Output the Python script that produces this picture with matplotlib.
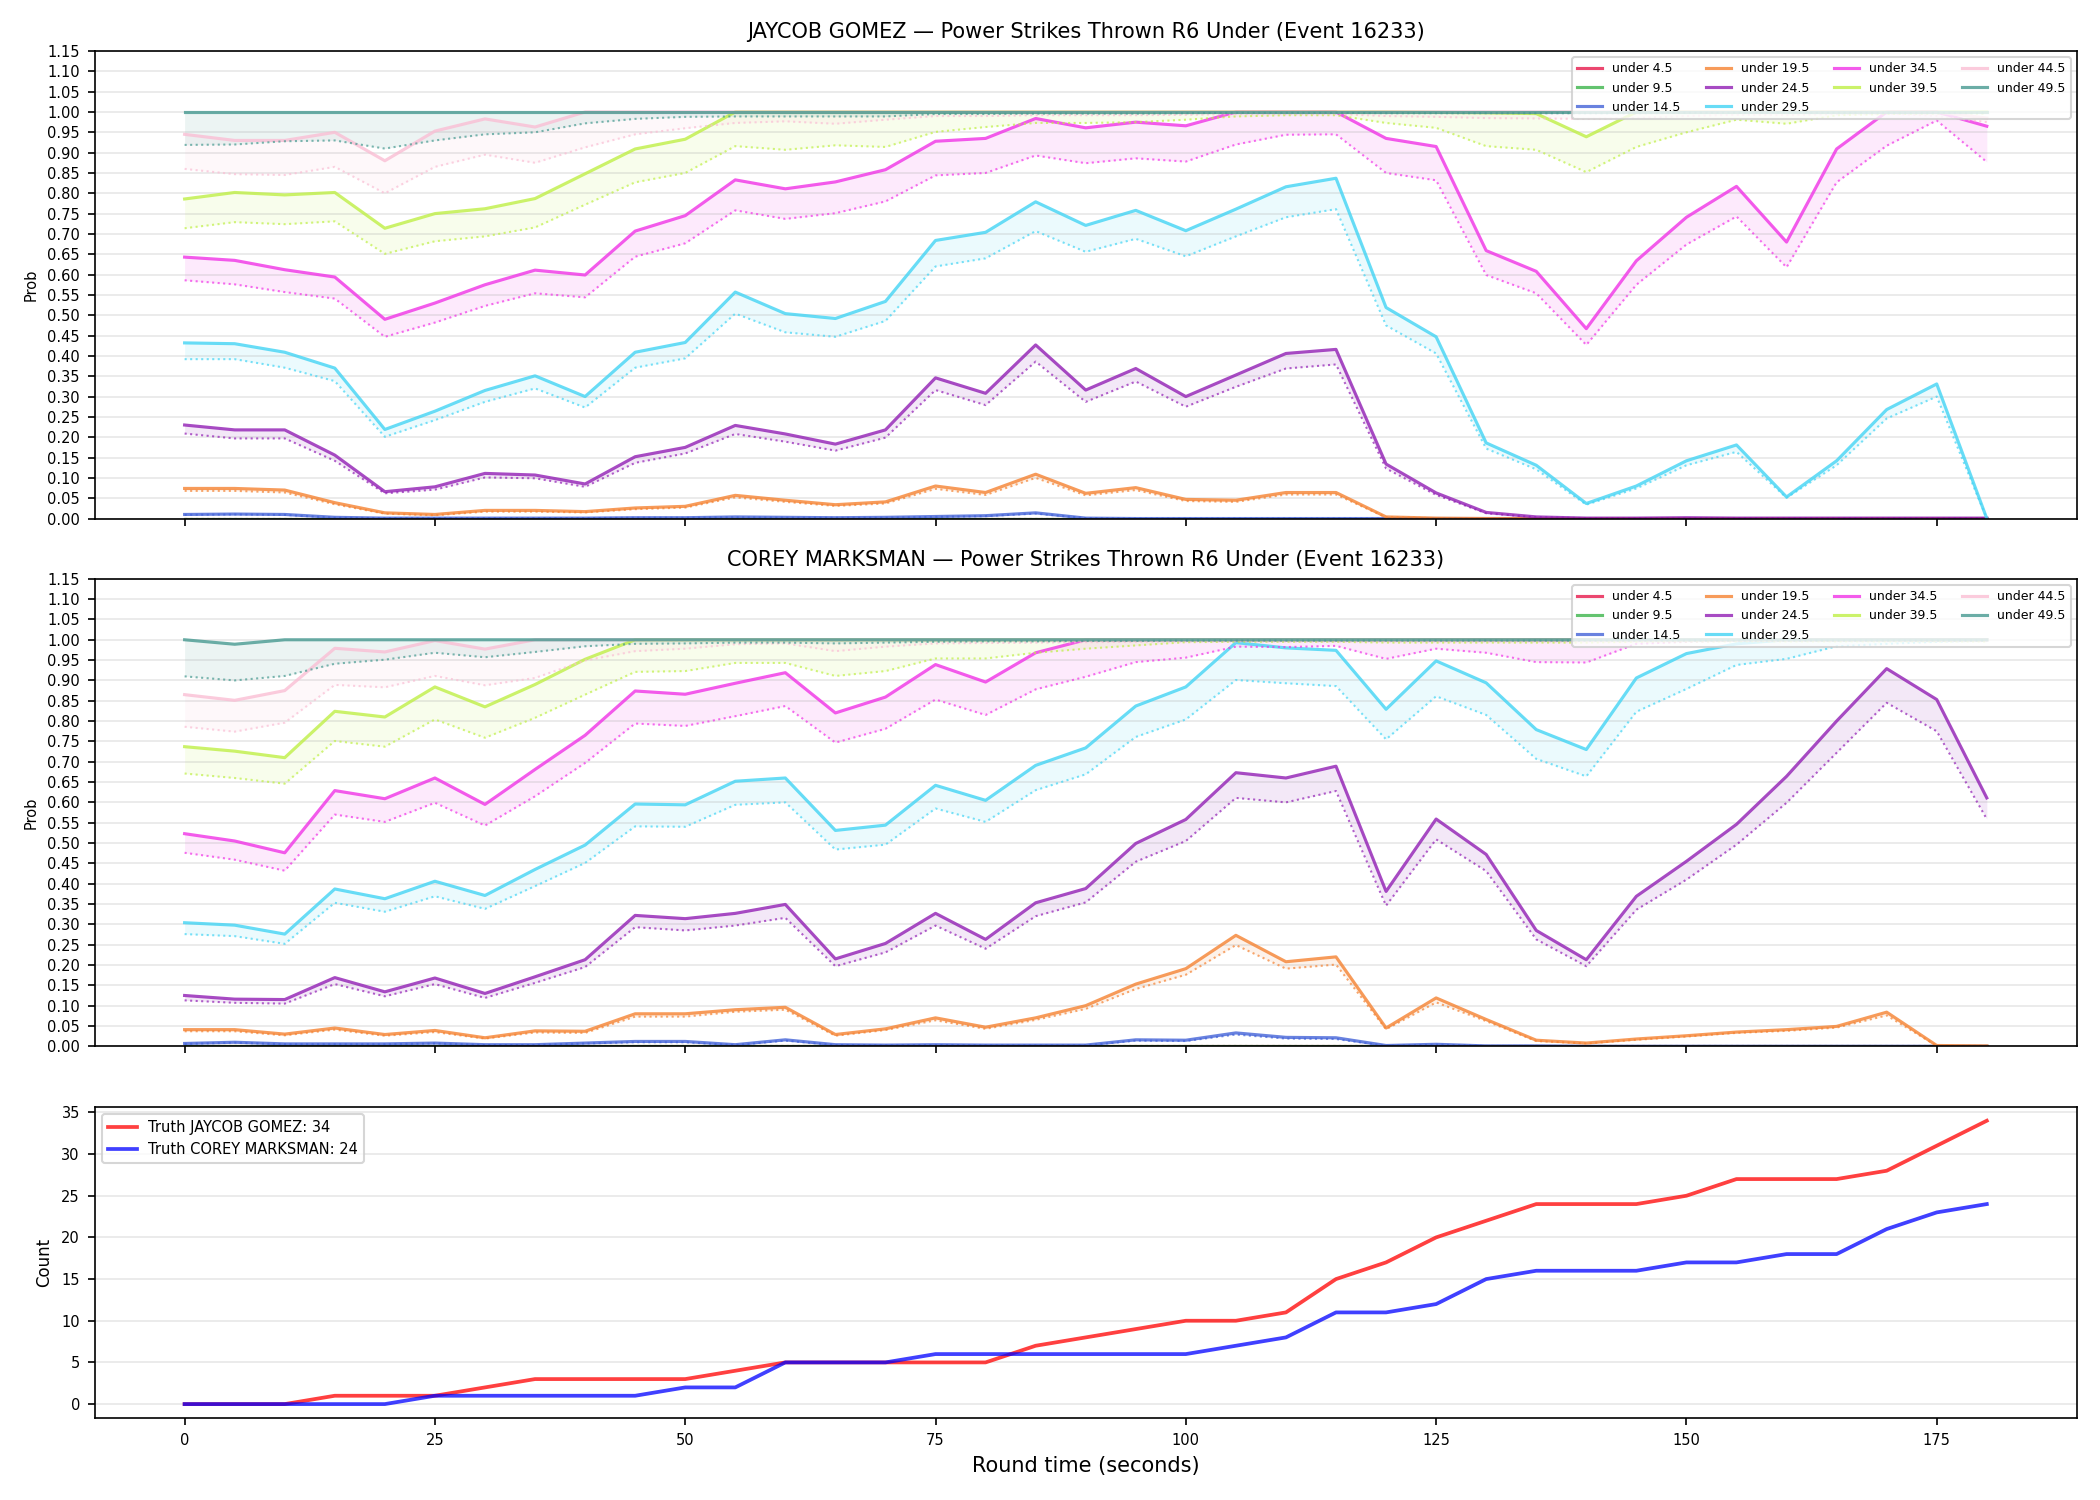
"""
plot.py — cumulative "under X" probability bands for two fighters plus the
running truth count, one figure with three stacked panels.

Solid line = model probability, dotted line = lower band; the gap is shaded.
"""

import matplotlib
matplotlib.use("Agg")
import matplotlib.pyplot as plt
import numpy as np

matplotlib.rcParams.update({
    "font.family":      "DejaVu Sans",
    "font.size":        7,
    "axes.titlesize":   10,
    "axes.labelsize":   7,
    "legend.fontsize":  6,
    "figure.facecolor": "white",
})

# ---------------------------------------------------------------------------
# Data (5 s steps)
# ---------------------------------------------------------------------------

round_time = [0, 5, 10, 15, 20, 25, 30, 35, 40, 45, 50, 55, 60, 65, 70, 75, 80, 85, 90,
              95, 100, 105, 110, 115, 120, 125, 130, 135, 140, 145, 150, 155, 160, 165,
              170, 175, 180]

thresholds = [4.5, 9.5, 14.5, 19.5, 24.5, 29.5, 34.5, 39.5, 44.5, 49.5]

# --- JAYCOB GOMEZ -----------------------------------------------------------
# under 4.5 / 9.5 sit flat on zero for the whole round
jg_u4_line = [0.000, 0.000, 0.000, 0.000, 0.000, 0.000, 0.000, 0.000, 0.000, 0.000,
              0.000, 0.000, 0.000, 0.000, 0.000, 0.000, 0.000, 0.000, 0.000, 0.000,
              0.000, 0.000, 0.000, 0.000, 0.000, 0.000, 0.000, 0.000, 0.000, 0.000,
              0.000, 0.000, 0.000, 0.000, 0.000, 0.000, 0.000]
jg_u4_low = jg_u4_line
jg_u9_line = jg_u4_line
jg_u9_low = jg_u4_line

jg_u14_line = [0.010, 0.011, 0.010, 0.003, 0.001, 0.001, 0.001, 0.001, 0.001, 0.002,
               0.002, 0.004, 0.003, 0.002, 0.003, 0.005, 0.007, 0.014, 0.001, 0.000,
               0.000, 0.000, 0.000, 0.000, 0.000, 0.000, 0.000, 0.000, 0.000, 0.000,
               0.000, 0.000, 0.000, 0.000, 0.000, 0.000, 0.000]
jg_u14_low = [0.009, 0.010, 0.009, 0.002, 0.001, 0.001, 0.001, 0.001, 0.001, 0.002,
              0.002, 0.003, 0.002, 0.002, 0.002, 0.004, 0.006, 0.012, 0.001, 0.000,
              0.000, 0.000, 0.000, 0.000, 0.000, 0.000, 0.000, 0.000, 0.000, 0.000,
              0.000, 0.000, 0.000, 0.000, 0.000, 0.000, 0.000]

jg_u19_line = [0.074, 0.074, 0.070, 0.039, 0.014, 0.010, 0.020, 0.020, 0.017, 0.026,
               0.030, 0.057, 0.045, 0.034, 0.041, 0.080, 0.064, 0.109, 0.062, 0.076,
               0.047, 0.045, 0.064, 0.064, 0.004, 0.001, 0.000, 0.000, 0.000, 0.000,
               0.000, 0.000, 0.000, 0.000, 0.000, 0.000, 0.000]
jg_u19_low = [0.068, 0.068, 0.064, 0.035, 0.012, 0.008, 0.017, 0.017, 0.015, 0.023,
              0.027, 0.052, 0.041, 0.031, 0.037, 0.073, 0.058, 0.100, 0.057, 0.070,
              0.043, 0.041, 0.059, 0.059, 0.003, 0.001, 0.000, 0.000, 0.000, 0.000,
              0.000, 0.000, 0.000, 0.000, 0.000, 0.000, 0.000]

jg_u24_line = [0.230, 0.218, 0.218, 0.156, 0.066, 0.078, 0.111, 0.107, 0.085, 0.152,
               0.175, 0.229, 0.208, 0.183, 0.218, 0.346, 0.308, 0.427, 0.316, 0.369,
               0.300, 0.353, 0.406, 0.416, 0.134, 0.063, 0.015, 0.004, 0.001, 0.001,
               0.002, 0.001, 0.001, 0.001, 0.001, 0.001, 0.001]
jg_u24_low = [0.209, 0.197, 0.197, 0.142, 0.062, 0.071, 0.101, 0.099, 0.078, 0.137,
              0.160, 0.208, 0.189, 0.167, 0.199, 0.316, 0.279, 0.386, 0.287, 0.337,
              0.275, 0.324, 0.369, 0.379, 0.123, 0.058, 0.013, 0.003, 0.001, 0.001,
              0.001, 0.001, 0.001, 0.001, 0.001, 0.001, 0.001]

jg_u29_line = [0.432, 0.430, 0.409, 0.370, 0.219, 0.264, 0.315, 0.351, 0.300, 0.409,
               0.433, 0.557, 0.504, 0.492, 0.534, 0.684, 0.704, 0.779, 0.721, 0.758,
               0.708, 0.761, 0.816, 0.837, 0.519, 0.447, 0.186, 0.131, 0.037, 0.080,
               0.142, 0.181, 0.053, 0.142, 0.268, 0.331, 0.000]
jg_u29_low = [0.392, 0.392, 0.371, 0.338, 0.201, 0.242, 0.287, 0.320, 0.273, 0.371,
              0.394, 0.504, 0.458, 0.447, 0.486, 0.620, 0.640, 0.707, 0.656, 0.688,
              0.645, 0.694, 0.741, 0.761, 0.475, 0.406, 0.172, 0.121, 0.034, 0.074,
              0.131, 0.164, 0.051, 0.131, 0.246, 0.300, 0.000]

jg_u34_line = [0.643, 0.635, 0.612, 0.594, 0.490, 0.530, 0.575, 0.611, 0.599, 0.707,
               0.745, 0.833, 0.811, 0.828, 0.858, 0.928, 0.935, 0.984, 0.961, 0.975,
               0.966, 1.000, 1.000, 1.000, 0.935, 0.915, 0.659, 0.608, 0.467, 0.634,
               0.741, 0.817, 0.680, 0.909, 1.000, 1.000, 0.965]
jg_u34_low = [0.586, 0.576, 0.557, 0.541, 0.447, 0.482, 0.523, 0.554, 0.544, 0.644,
              0.677, 0.758, 0.737, 0.751, 0.780, 0.844, 0.850, 0.893, 0.874, 0.886,
              0.878, 0.920, 0.944, 0.945, 0.850, 0.832, 0.599, 0.554, 0.427, 0.575,
              0.674, 0.743, 0.618, 0.827, 0.917, 0.979, 0.877]

jg_u39_line = [0.786, 0.802, 0.796, 0.802, 0.714, 0.750, 0.762, 0.787, 0.848, 0.909,
               0.933, 1.000, 1.000, 1.000, 1.000, 1.000, 1.000, 1.000, 1.000, 1.000,
               1.000, 1.000, 1.000, 1.000, 1.000, 0.999, 0.998, 0.996, 0.939, 1.000,
               1.000, 1.000, 1.000, 1.000, 1.000, 1.000, 1.000]
jg_u39_low = [0.714, 0.729, 0.724, 0.731, 0.651, 0.682, 0.694, 0.716, 0.772, 0.827,
              0.850, 0.916, 0.907, 0.918, 0.914, 0.951, 0.963, 0.973, 0.973, 0.975,
              0.981, 0.989, 0.992, 0.992, 0.973, 0.961, 0.916, 0.907, 0.852, 0.914,
              0.950, 0.981, 0.971, 0.992, 0.995, 0.996, 0.996]

jg_u44_line = [0.945, 0.930, 0.930, 0.950, 0.880, 0.953, 0.983, 0.963, 1.000, 1.000,
               1.000, 1.000, 1.000, 1.000, 1.000, 1.000, 1.000, 1.000, 1.000, 1.000,
               1.000, 1.000, 1.000, 1.000, 1.000, 1.000, 1.000, 1.000, 1.000, 1.000,
               1.000, 1.000, 1.000, 1.000, 1.000, 1.000, 0.985]
jg_u44_low = [0.860, 0.847, 0.845, 0.865, 0.800, 0.865, 0.895, 0.875, 0.913, 0.945,
              0.960, 0.973, 0.977, 0.971, 0.981, 0.990, 0.990, 0.992, 0.992, 0.992,
              0.993, 0.995, 0.995, 0.995, 0.990, 0.988, 0.985, 0.984, 0.983, 0.985,
              0.990, 0.993, 0.992, 0.995, 0.996, 0.990, 0.975]

jg_u49_line = [1.000, 1.000, 1.000, 1.000, 1.000, 1.000, 1.000, 1.000, 1.000, 1.000,
               1.000, 1.000, 1.000, 1.000, 1.000, 1.000, 1.000, 1.000, 1.000, 1.000,
               1.000, 1.000, 1.000, 1.000, 1.000, 1.000, 1.000, 1.000, 1.000, 1.000,
               1.000, 1.000, 1.000, 1.000, 1.000, 1.000, 1.000]
jg_u49_low = [0.919, 0.920, 0.928, 0.930, 0.910, 0.930, 0.945, 0.950, 0.972, 0.983,
              0.988, 0.989, 0.989, 0.989, 0.989, 0.995, 0.995, 0.996, 0.996, 0.996,
              0.997, 0.998, 0.998, 0.998, 0.997, 0.997, 0.997, 0.997, 0.997, 0.997,
              0.998, 0.998, 0.998, 0.998, 0.998, 0.998, 0.998]

# --- COREY MARKSMAN ---------------------------------------------------------
cm_u4_line = [0.000, 0.000, 0.000, 0.000, 0.000, 0.000, 0.000, 0.000, 0.000, 0.000,
              0.000, 0.000, 0.000, 0.000, 0.000, 0.000, 0.000, 0.000, 0.000, 0.000,
              0.000, 0.000, 0.000, 0.000, 0.000, 0.000, 0.000, 0.000, 0.000, 0.000,
              0.000, 0.000, 0.000, 0.000, 0.000, 0.000, 0.000]
cm_u4_low = cm_u4_line
cm_u9_line = cm_u4_line
cm_u9_low = cm_u4_line

cm_u14_line = [0.007, 0.010, 0.006, 0.006, 0.006, 0.008, 0.004, 0.004, 0.008, 0.012,
               0.012, 0.004, 0.016, 0.004, 0.003, 0.004, 0.003, 0.003, 0.003, 0.016,
               0.015, 0.033, 0.022, 0.021, 0.002, 0.005, 0.001, 0.001, 0.000, 0.000,
               0.000, 0.000, 0.000, 0.000, 0.000, 0.000, 0.000]
cm_u14_low = [0.006, 0.009, 0.005, 0.005, 0.005, 0.007, 0.003, 0.003, 0.007, 0.010,
              0.010, 0.003, 0.014, 0.003, 0.002, 0.003, 0.002, 0.002, 0.002, 0.014,
              0.013, 0.029, 0.019, 0.018, 0.001, 0.004, 0.001, 0.001, 0.000, 0.000,
              0.000, 0.000, 0.000, 0.000, 0.000, 0.000, 0.000]

cm_u19_line = [0.041, 0.041, 0.030, 0.045, 0.029, 0.039, 0.021, 0.038, 0.037, 0.080,
               0.080, 0.090, 0.096, 0.029, 0.043, 0.070, 0.047, 0.070, 0.100, 0.153,
               0.191, 0.273, 0.208, 0.220, 0.045, 0.119, 0.066, 0.015, 0.008, 0.018,
               0.026, 0.035, 0.041, 0.049, 0.084, 0.002, 0.001]
cm_u19_low = [0.037, 0.037, 0.027, 0.041, 0.026, 0.035, 0.019, 0.034, 0.033, 0.073,
              0.073, 0.085, 0.090, 0.026, 0.040, 0.064, 0.043, 0.065, 0.092, 0.141,
              0.176, 0.249, 0.191, 0.201, 0.042, 0.108, 0.062, 0.013, 0.007, 0.016,
              0.024, 0.033, 0.038, 0.046, 0.076, 0.001, 0.000]

cm_u24_line = [0.125, 0.116, 0.115, 0.169, 0.134, 0.168, 0.130, 0.171, 0.213, 0.322,
               0.314, 0.327, 0.349, 0.215, 0.253, 0.327, 0.263, 0.353, 0.388, 0.499,
               0.558, 0.673, 0.660, 0.689, 0.381, 0.559, 0.472, 0.285, 0.213, 0.369,
               0.455, 0.546, 0.664, 0.800, 0.929, 0.853, 0.611]
cm_u24_low = [0.113, 0.107, 0.105, 0.153, 0.123, 0.153, 0.119, 0.156, 0.195, 0.293,
              0.285, 0.297, 0.316, 0.197, 0.231, 0.297, 0.240, 0.320, 0.354, 0.454,
              0.505, 0.611, 0.600, 0.628, 0.346, 0.509, 0.431, 0.263, 0.197, 0.336,
              0.410, 0.496, 0.599, 0.722, 0.845, 0.775, 0.559]

cm_u29_line = [0.304, 0.298, 0.276, 0.387, 0.363, 0.406, 0.371, 0.435, 0.495, 0.596,
               0.594, 0.652, 0.660, 0.531, 0.544, 0.642, 0.605, 0.691, 0.734, 0.837,
               0.884, 0.993, 0.980, 0.974, 0.829, 0.948, 0.894, 0.779, 0.730, 0.906,
               0.966, 0.990, 1.000, 1.000, 1.000, 1.000, 1.000]
cm_u29_low = [0.276, 0.271, 0.252, 0.353, 0.331, 0.369, 0.338, 0.394, 0.451, 0.541,
              0.540, 0.594, 0.600, 0.484, 0.496, 0.585, 0.552, 0.630, 0.669, 0.761,
              0.804, 0.901, 0.893, 0.886, 0.755, 0.861, 0.815, 0.707, 0.664, 0.823,
              0.879, 0.938, 0.953, 0.984, 0.990, 0.995, 0.998]

cm_u34_line = [0.523, 0.505, 0.476, 0.629, 0.609, 0.660, 0.595, 0.681, 0.765, 0.874,
               0.866, 0.893, 0.919, 0.820, 0.859, 0.939, 0.896, 0.968, 1.000, 1.000,
               1.000, 1.000, 1.000, 1.000, 1.000, 1.000, 1.000, 1.000, 1.000, 1.000,
               1.000, 1.000, 1.000, 1.000, 1.000, 1.000, 1.000]
cm_u34_low = [0.476, 0.459, 0.432, 0.570, 0.552, 0.599, 0.543, 0.615, 0.697, 0.794,
              0.788, 0.812, 0.837, 0.747, 0.781, 0.853, 0.815, 0.878, 0.909, 0.945,
              0.956, 0.983, 0.982, 0.985, 0.953, 0.978, 0.968, 0.945, 0.944, 0.990,
              0.995, 0.998, 0.999, 0.999, 0.999, 0.999, 0.999]

cm_u39_line = [0.737, 0.726, 0.710, 0.824, 0.810, 0.884, 0.835, 0.890, 0.952, 1.000,
               1.000, 1.000, 1.000, 1.000, 1.000, 1.000, 1.000, 1.000, 1.000, 1.000,
               1.000, 1.000, 1.000, 1.000, 1.000, 1.000, 1.000, 1.000, 1.000, 1.000,
               1.000, 1.000, 1.000, 1.000, 1.000, 1.000, 1.000]
cm_u39_low = [0.671, 0.660, 0.646, 0.751, 0.737, 0.804, 0.759, 0.808, 0.865, 0.921,
              0.923, 0.943, 0.943, 0.911, 0.923, 0.954, 0.954, 0.968, 0.978, 0.986,
              0.994, 0.995, 0.995, 0.995, 0.993, 0.993, 0.993, 0.993, 0.993, 0.995,
              0.996, 0.996, 0.996, 0.996, 0.996, 0.996, 0.996]

cm_u44_line = [0.865, 0.851, 0.875, 0.979, 0.970, 0.998, 0.977, 1.000, 1.000, 1.000,
               1.000, 1.000, 1.000, 1.000, 1.000, 1.000, 1.000, 1.000, 1.000, 1.000,
               1.000, 1.000, 1.000, 1.000, 1.000, 1.000, 1.000, 1.000, 1.000, 1.000,
               1.000, 1.000, 1.000, 1.000, 1.000, 1.000, 1.000]
cm_u44_low = [0.786, 0.774, 0.796, 0.889, 0.883, 0.911, 0.888, 0.906, 0.949, 0.972,
              0.978, 0.989, 0.991, 0.972, 0.983, 0.991, 0.992, 0.993, 0.994, 0.995,
              0.996, 0.996, 0.996, 0.996, 0.996, 0.996, 0.996, 0.996, 0.996, 0.996,
              0.997, 0.997, 0.997, 0.997, 0.997, 0.997, 0.997]

cm_u49_line = [1.000, 0.989, 1.000, 1.000, 1.000, 1.000, 1.000, 1.000, 1.000, 1.000,
               1.000, 1.000, 1.000, 1.000, 1.000, 1.000, 1.000, 1.000, 1.000, 1.000,
               1.000, 1.000, 1.000, 1.000, 1.000, 1.000, 1.000, 1.000, 1.000, 1.000,
               1.000, 1.000, 1.000, 1.000, 1.000, 1.000, 1.000]
cm_u49_low = [0.910, 0.900, 0.911, 0.941, 0.951, 0.968, 0.957, 0.970, 0.984, 0.990,
              0.991, 0.993, 0.993, 0.991, 0.993, 0.995, 0.996, 0.996, 0.997, 0.997,
              0.998, 0.998, 0.998, 0.998, 0.998, 0.998, 0.998, 0.998, 0.998, 0.998,
              0.998, 0.998, 0.998, 0.998, 0.998, 0.998, 0.998]

# --- truth counts -----------------------------------------------------------
truth_jaycob = [0, 0, 0, 1, 1, 1, 2, 3, 3, 3, 3, 4, 5, 5, 5, 5, 5, 7, 8, 9, 10, 10, 11,
                15, 17, 20, 22, 24, 24, 24, 25, 27, 27, 27, 28, 31, 34]
truth_corey = [0, 0, 0, 0, 0, 1, 1, 1, 1, 1, 2, 2, 5, 5, 5, 6, 6, 6, 6, 6, 6, 7, 8,
               11, 11, 12, 15, 16, 16, 16, 17, 17, 18, 18, 21, 23, 24]

# ---------------------------------------------------------------------------
# Styling
# ---------------------------------------------------------------------------

PALETTE = {
    4.5:  "#e6194b",
    9.5:  "#3cb44b",
    14.5: "#4363d8",
    19.5: "#f58231",
    24.5: "#911eb4",
    29.5: "#42d4f4",
    34.5: "#f032e6",
    39.5: "#bfef45",
    44.5: "#fabed4",
    49.5: "#469990",
}

JAYCOB_SERIES = [
    (jg_u4_line, jg_u4_low), (jg_u9_line, jg_u9_low), (jg_u14_line, jg_u14_low),
    (jg_u19_line, jg_u19_low), (jg_u24_line, jg_u24_low), (jg_u29_line, jg_u29_low),
    (jg_u34_line, jg_u34_low), (jg_u39_line, jg_u39_low), (jg_u44_line, jg_u44_low),
    (jg_u49_line, jg_u49_low),
]
COREY_SERIES = [
    (cm_u4_line, cm_u4_low), (cm_u9_line, cm_u9_low), (cm_u14_line, cm_u14_low),
    (cm_u19_line, cm_u19_low), (cm_u24_line, cm_u24_low), (cm_u29_line, cm_u29_low),
    (cm_u34_line, cm_u34_low), (cm_u39_line, cm_u39_low), (cm_u44_line, cm_u44_low),
    (cm_u49_line, cm_u49_low),
]


def plot_under_panel(ax, series, title):
    """Draw one fighter's 'under X' bands on ax."""
    t = np.array(round_time)
    for thr, (line, low) in zip(thresholds, series):
        color = PALETTE[thr]
        ax.fill_between(t, low, line, color=color, alpha=0.1, linewidth=0)
        ax.plot(t, line, color=color, linewidth=1.5, alpha=0.8, label=f"under {thr}")
        ax.plot(t, low, color=color, linewidth=1.0, alpha=0.7, linestyle=":")

    ax.set_ylim(0, 1.15)
    ax.set_yticks(np.arange(0, 1.1501, 0.05))
    ax.set_ylabel("Prob")
    ax.set_title(title)
    ax.grid(axis="y", alpha=0.3)
    ax.legend(loc="upper right", ncol=4, fontsize=6)


fig, (ax1, ax2, ax3) = plt.subplots(
    3, 1, figsize=(14, 10), dpi=150, sharex=True,
    gridspec_kw={"height_ratios": [3, 3, 2]},
)
fig.subplots_adjust(left=0.045, right=0.989, top=0.966, bottom=0.0545, hspace=0.145)

plot_under_panel(ax1, JAYCOB_SERIES,
                 "JAYCOB GOMEZ \u2014 Power Strikes Thrown R6 Under (Event 16233)")
plot_under_panel(ax2, COREY_SERIES,
                 "COREY MARKSMAN \u2014 Power Strikes Thrown R6 Under (Event 16233)")

ax3.plot(round_time, truth_jaycob, color="red", alpha=0.75, linewidth=1.8,
         label=f"Truth JAYCOB GOMEZ: {truth_jaycob[-1]}")
ax3.plot(round_time, truth_corey, color="blue", alpha=0.75, linewidth=1.8,
         label=f"Truth COREY MARKSMAN: {truth_corey[-1]}")
ax3.set_ylabel("Count", fontsize=8)
ax3.set_xlabel("Round time (seconds)", fontsize=10)
ax3.grid(axis="y", alpha=0.3)
ax3.legend(loc="upper left", fontsize=7)

plt.savefig("out.png", dpi=150)
